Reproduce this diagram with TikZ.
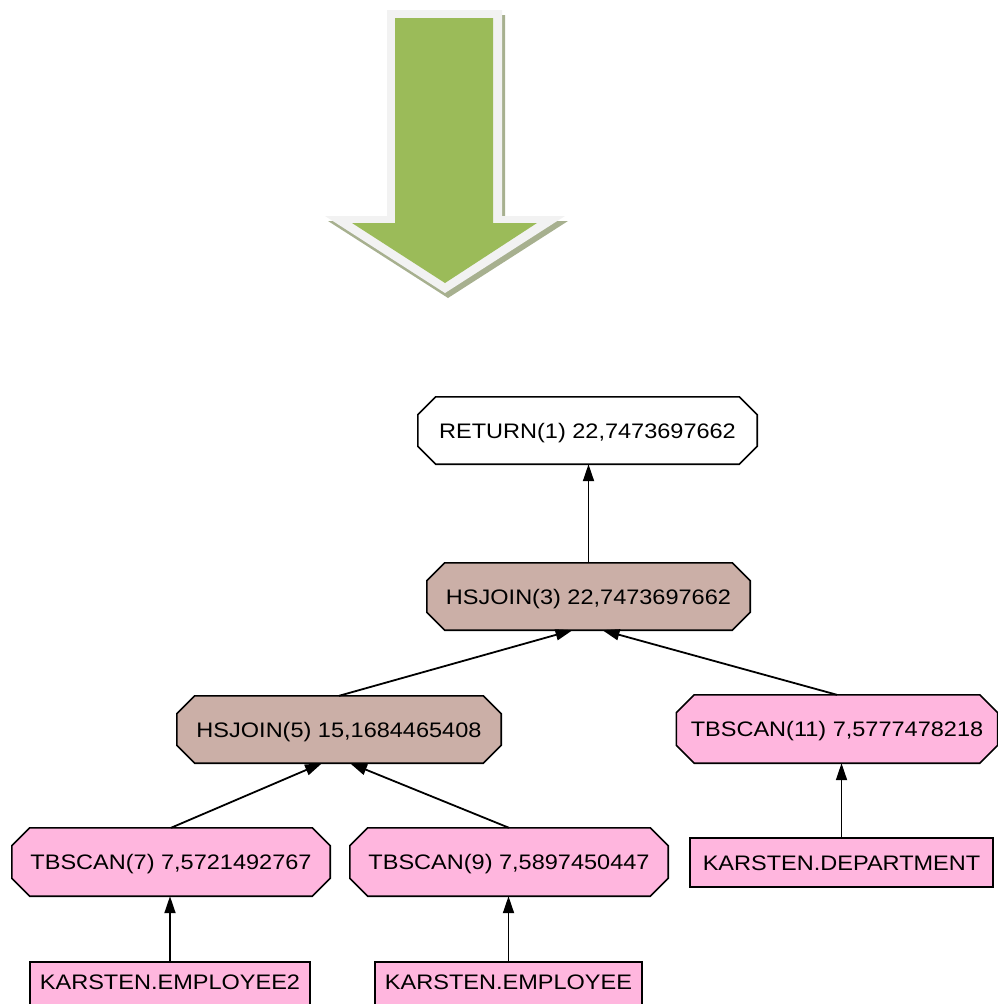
\documentclass[tikz,border=0pt]{standalone}
\usepackage{fontspec}
\setmainfont{Liberation Sans}[FakeStretch=1.12]
\usetikzlibrary{arrows.meta,calc,backgrounds}

\definecolor{arrowgreen}{HTML}{9BBB59}
\definecolor{arrowrim}{HTML}{F2F2F2}
\definecolor{arrowshade}{HTML}{A7B08F}
\definecolor{joinfill}{HTML}{CBAFA7}
\definecolor{scanfill}{HTML}{FFB6DE}

\tikzset{
  plan/.style={draw=none, inner sep=0pt, text height=15pt, text depth=0pt,
    font=\fontsize{21}{25}\selectfont},
  link/.style={line width=1.8pt, -{Triangle[width=11pt,length=17pt]}},
  rim/.style={draw=black, line width=1.6pt},
}

% octagonal operator box behind a named node
\newcommand\octbox[2]{%
  \filldraw[rim, fill=#2]
    ($(#1.north west)+(18,0)$) -- ($(#1.north east)+(-18,0)$) --
    ($(#1.north east)+(0,18)$) -- ($(#1.south east)+(0,-18)$) --
    ($(#1.south east)+(-18,0)$) -- ($(#1.south west)+(18,0)$) --
    ($(#1.south west)+(0,-18)$) -- ($(#1.north west)+(0,18)$) -- cycle;}

% table box running off the lower edge
\newcommand\tablebox[1]{%
  \filldraw[rim, fill=scanfill]
    ($(#1.south west)+(0,14)$) -- (#1.north west) -- (#1.north east) -- ($(#1.south east)+(0,14)$);}

\begin{document}
\begin{tikzpicture}[x=1pt, y=-1pt]
\useasboundingbox (0,0) rectangle (998,1004);

% big downward arrow
\fill[arrowshade] ($(387,10)+(3,5)$) -- ($(502,10)+(3,5)$) -- ($(502,216)+(3,5)$) -- ($(565,216)+(3,5)$)
  -- ($(445,293)+(3,5)$) -- ($(325,216)+(3,5)$) -- ($(387,216)+(3,5)$) -- cycle;
\fill[arrowrim] (387,10) -- (502,10) -- (502,216) -- (565,216) -- (445,293) -- (325,216) -- (387,216) -- cycle;
\fill[arrowgreen] (395,18) -- (493,18) -- (493,223) -- (537,223) -- (445,283) -- (352,223) -- (395,223) -- cycle;

% plan operators
\node[plan, minimum width=339pt, minimum height=67pt] (ret)  at (587.5,430.5) {RETURN(1) 22,7473697662};
\node[plan, minimum width=323pt, minimum height=67pt] (hs3)  at (588.5,596.5) {HSJOIN(3) 22,7473697662};
\node[plan, minimum width=324pt, minimum height=67pt] (hs5)  at (339,729.5)   {HSJOIN(5) 15,1684465408};
\node[plan, minimum width=318pt, minimum height=68pt] (tb7)  at (171,862)     {TBSCAN(7) 7,5721492767};
\node[plan, minimum width=318pt, minimum height=68pt] (tb9)  at (509,862)     {TBSCAN(9) 7,5897450447};
\node[plan, minimum width=321pt, minimum height=68pt] (tb11) at (837,729)     {TBSCAN(11) 7,5777478218};
\node[plan, minimum width=303pt, minimum height=49pt] (dept) at (841.5,862.5) {KARSTEN.DEPARTMENT};
\node[plan, minimum width=280pt, minimum height=40pt] (emp2) at (170,982)     {KARSTEN.EMPLOYEE2};
\node[plan, minimum width=267pt, minimum height=40pt] (emp)  at (508.5,982)   {KARSTEN.EMPLOYEE};

\begin{scope}[on background layer]
  \clip (0,0) rectangle (998,1004);
  \octbox{ret}{white}
  \octbox{hs3}{joinfill}
  \octbox{hs5}{joinfill}
  \octbox{tb7}{scanfill}
  \octbox{tb9}{scanfill}
  \octbox{tb11}{scanfill}
  \filldraw[rim, fill=scanfill] (dept.north west) rectangle (dept.south east);
  \tablebox{emp2}
  \tablebox{emp}
\end{scope}

% data flow
\draw[link] (hs3.north) -- (hs3.north |- ret.south);
\draw[link] (hs5.north) -- ($(hs3.south)+(-16,0)$);
\draw[link] (tb11.north) -- ($(hs3.south)+(14,0)$);
\draw[link] (tb7.north) -- ($(hs5.south)+(-17,0)$);
\draw[link] (tb9.north) -- ($(hs5.south)+(11,0)$);
\draw[link] (emp2.north) -- (emp2.north |- tb7.south);
\draw[link] (emp.north) -- (emp.north |- tb9.south);
\draw[link] (dept.north) -- (dept.north |- tb11.south);
\end{tikzpicture}
\end{document}
